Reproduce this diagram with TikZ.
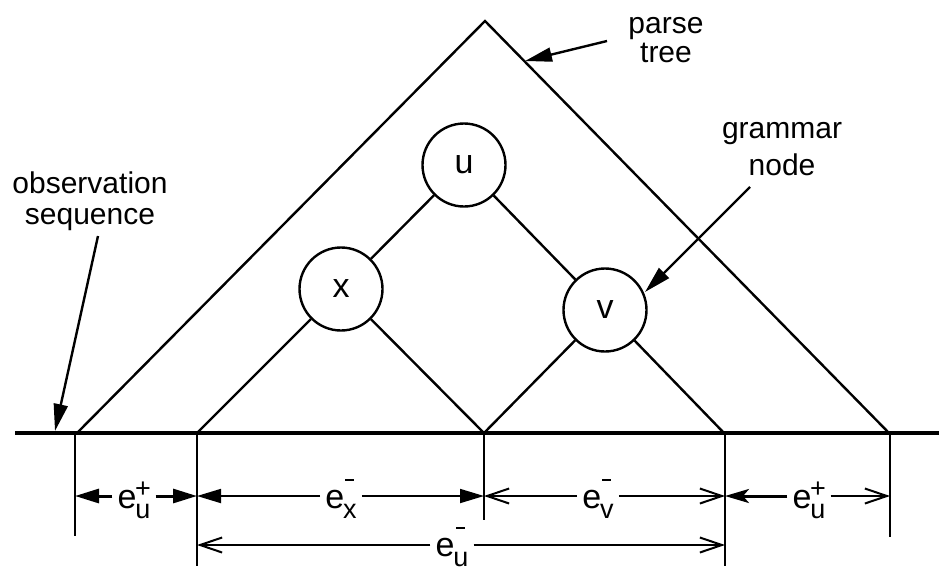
\documentclass[tikz,border=0pt]{standalone}
\usepackage{fontspec}
\setmainfont{Liberation Sans}
\usetikzlibrary{arrows.meta}
\newcommand{\elab}[2]{\fontsize{34}{34}\selectfont e\kern-1pt\fontsize{27}{27}\selectfont\setbox0\hbox{#1}\raisebox{-10pt}{\copy0}\kern-\wd0\hbox to \wd0{\hss#2\hss}}
\newcommand{\supplus}{\raisebox{11pt}{+}}
\newcommand{\supbar}{\rule[27pt]{9pt}{2.2pt}}
\begin{document}
\begin{tikzpicture}[x=1pt,y=-1pt,
  tree/.style={line width=2.4pt},
  gnode/.style={circle, draw, line width=2.4pt, minimum size=83pt, inner sep=0pt, font=\fontsize{34}{34}\selectfont},
  tickline/.style={line width=2pt},
  baseline/.style={line width=4.5pt},
  lbl/.style={font=\fontsize{30}{29}\selectfont, align=center, inner sep=0pt},
  dim/.style={anchor=base, inner xsep=5pt, inner ysep=0pt},
  ptr/.style={line width=2.4pt, -{Triangle[length=27pt,width=14pt]}},
  fa/.style={-{Triangle[length=24pt,width=14pt]}},
  oa/.style={-{Straight Barb[length=22pt,width=15pt,line width=2pt]}},
  sa/.style={-{Stealth[length=24pt,width=14pt,inset=6pt]}}
]
\useasboundingbox (0,0) rectangle (939,566);

% parse tree
\coordinate (apex) at (485,21);
\coordinate (bl) at (77,433);
\coordinate (br) at (889,433);
\coordinate (p1) at (197,433);
\coordinate (p2) at (484,433);
\coordinate (p3) at (724,433);
\node[gnode] (u) at (464,165) {u};
\node[gnode] (x) at (341,289) {x};
\node[gnode] (v) at (605,310) {v};
\draw[tree] (bl) -- (apex) -- (br);
\draw[tree] (u) -- (x);
\draw[tree] (u) -- (v);
\draw[tree] (x) -- (p1);
\draw[tree] (x) -- (p2);
\draw[tree] (v) -- (p2);
\draw[tree] (v) -- (p3);

% observation sequence line
\coordinate (bs) at (15,433);
\coordinate (be) at (939,433);
\draw[baseline] (bs) -- (be);

% ticks
\coordinate (t0) at (75,433);  \coordinate (t0b) at (75,536);
\coordinate (t1) at (197,433); \coordinate (t1b) at (197,566);
\coordinate (t2) at (484,433); \coordinate (t2b) at (484,520);
\coordinate (t3) at (725,433); \coordinate (t3b) at (725,566);
\coordinate (t4) at (890,433); \coordinate (t4b) at (890,537);
\draw[tickline] (t0) -- (t0b);
\draw[tickline] (t1) -- (t1b);
\draw[tickline] (t2) -- (t2b);
\draw[tickline] (t3) -- (t3b);
\draw[tickline] (t4) -- (t4b);

% dimension rows
\coordinate (a0) at (75,496);
\coordinate (a1) at (197,496);
\coordinate (a2) at (484,496);
\coordinate (a3) at (725,496);
\coordinate (a4) at (890,496);
\coordinate (b1) at (197,545);
\coordinate (b3) at (725,545);

\node[dim] (lu1) at (134,508) {\elab{u}{\supplus}};
\node[dim] (lx) at (341,508) {\elab{x}{\supbar}};
\node[dim] (lv) at (598,508) {\elab{v}{\supbar}};
\node[dim] (lu2) at (809,508) {\elab{u}{\supplus}};
\node[dim] (lub) at (452,556) {\elab{u}{\supbar}};

\draw[line width=3pt, fa] (lu1.west |- a0) -- (a0);
\draw[line width=3pt, fa] (lu1.east |- a1) -- (a1);
\draw[line width=1.8pt, fa] (lx.west |- a1) -- (a1);
\draw[line width=1.8pt, fa] (lx.east |- a2) -- (a2);
\draw[line width=1.2pt, oa] (lv.west |- a2) -- (a2);
\draw[line width=1.2pt, oa] (lv.east |- a3) -- (a3);
\draw[line width=3pt, sa] (lu2.west |- a3) -- (a3);
\draw[line width=2pt, oa] (lu2.east |- a4) -- (a4);
\draw[line width=2pt, oa] (lub.west |- b1) -- (b1);
\draw[line width=2pt, oa] (lub.east |- b3) -- (b3);

% labels with pointers
\node[lbl, anchor=north] (pt) at (666,17.5) {parse\\tree};
\coordinate (pttail) at (607,41);
\coordinate (pttip) at (525,61);
\draw[ptr] (pttail) -- (pttip);

\node[lbl, font=\fontsize{30}{37}\selectfont, anchor=north] (gn) at (782,122.5) {grammar\\node};
\coordinate (gntail) at (750,187);
\coordinate (gntip) at (645,292);
\draw[ptr] (gntail) -- (gntip);

\node[lbl, font=\fontsize{30}{31}\selectfont, anchor=north] (os) at (90,171.5) {observation\\sequence};
\coordinate (ostail) at (98,236);
\coordinate (ostip) at (55,431);
\draw[ptr] (ostail) -- (ostip);
\end{tikzpicture}
\end{document}
